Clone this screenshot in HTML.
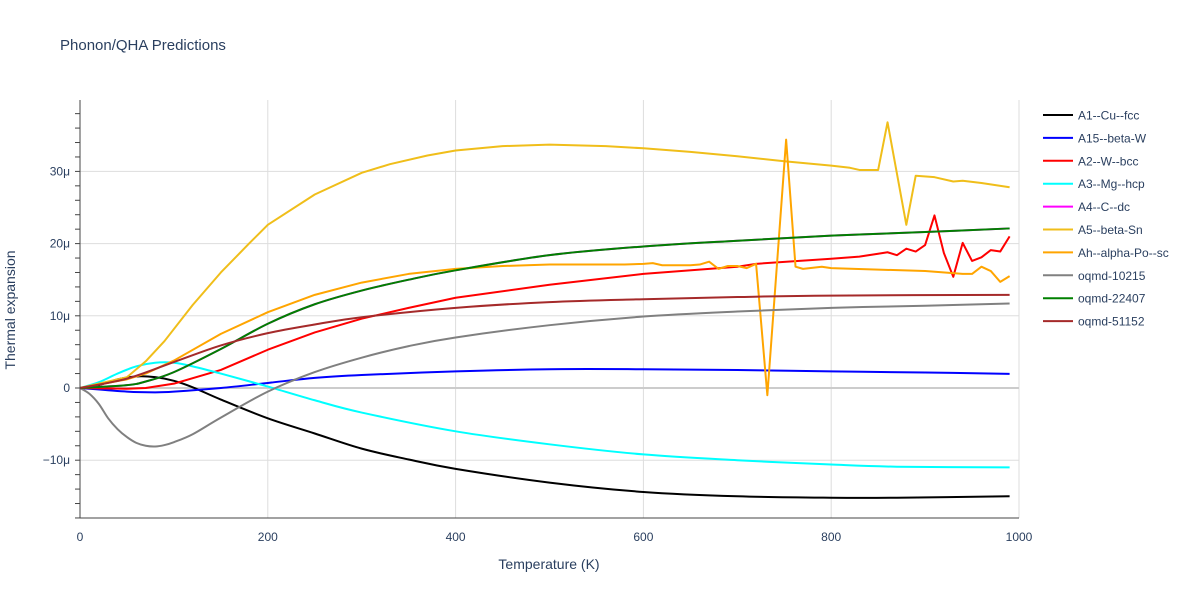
<!DOCTYPE html>
<html><head><meta charset="utf-8"><style>
body{margin:0;background:#fff;font-family:"Liberation Sans",Arial,sans-serif;}
svg text{font-family:"Liberation Sans",Arial,sans-serif;}
</style></head><body>
<svg id="c" width="1200" height="600" xmlns="http://www.w3.org/2000/svg">
<rect width="1200" height="600" fill="#fff"/>
<text x="60" y="50" font-size="15" fill="#2a3f5f">Phonon/QHA Predictions</text>
<g id="grid"></g>
<g id="series"></g>
<g id="axes"></g>
<g id="legend"></g>
<text x="549" y="569" font-size="14" fill="#2a3f5f" text-anchor="middle">Temperature (K)</text>
<text transform="translate(15,310) rotate(-90)" font-size="14" fill="#2a3f5f" text-anchor="middle">Thermal expansion</text>
</svg>
<script>
const xTicks=[0,200,400,600,800,1000];
const yTicks=[-10,0,10,20,30];
const yTickLabels=["−10μ","0","10μ","20μ","30μ"];
const names=["A1--Cu--fcc","A15--beta-W","A2--W--bcc","A3--Mg--hcp","A4--C--dc","A5--beta-Sn","Ah--alpha-Po--sc","oqmd-10215","oqmd-22407","oqmd-51152"];
const colors=["#000000","#0000ff","#ff0000","#00ffff","#ff00ff","#f0be1a","#ffa500","#808080","#008000","#a52a2a"];
const tA1=[0,20,40,60,80,100,120,150,200,250,300,350,400,500,600,700,800,870,990];
const vA1=[0,0.4,1.2,1.6,1.5,1.0,0.1,-1.6,-4.2,-6.3,-8.4,-9.9,-11.2,-13.1,-14.4,-15.0,-15.2,-15.2,-15.0];
const tA15=[0,50,80,100,150,200,250,300,400,500,600,700,800,900,990];
const vA15=[0,-0.5,-0.6,-0.5,0,0.7,1.4,1.8,2.3,2.6,2.6,2.5,2.3,2.15,1.95];
const tA2=[0,50,70,100,150,200,250,300,350,400,500,600,700,720,800,830,850,860,870,880,890,900,910,920,930,940,950,960,970,980,990];
const vA2=[0,-0.1,0,0.6,2.5,5.3,7.7,9.6,11.1,12.5,14.3,15.8,16.8,17.2,17.9,18.2,18.6,18.8,18.4,19.3,18.9,19.8,23.9,18.7,15.4,20.1,17.6,18.1,19.1,18.9,21.0];
const tA3=[0,20,40,60,80,100,120,150,200,250,300,400,500,600,700,800,870,990];
const vA3=[0,0.8,2.0,3.0,3.5,3.5,3.0,2.0,0.2,-1.7,-3.4,-6.0,-7.8,-9.2,-10.0,-10.6,-10.9,-11.0];
const tA5=[0,50,70,90,120,150,180,200,250,300,330,370,400,450,500,560,600,650,700,750,800,820,830,850,860,880,890,910,930,940,960,990];
const vA5=[0,1.5,3.7,6.5,11.5,16,20,22.6,26.8,29.8,31.0,32.2,32.9,33.5,33.7,33.5,33.2,32.7,32.1,31.4,30.8,30.5,30.2,30.2,36.8,22.6,29.4,29.2,28.6,28.7,28.4,27.8];
const tAh=[0,50,70,100,150,200,250,300,350,400,450,500,580,600,610,620,650,660,670,680,690,700,710,720,732,752,762,770,790,800,900,940,950,960,970,980,990];
const vAh=[0,1.2,2.0,3.8,7.5,10.5,12.9,14.6,15.8,16.5,16.9,17.1,17.1,17.2,17.3,17.0,17.0,17.1,17.5,16.5,16.9,16.9,16.6,17.2,-1.0,34.4,16.8,16.5,16.8,16.6,16.2,15.8,15.8,16.8,16.2,14.7,15.5];
const tG=[0,10,20,30,40,50,60,70,80,90,100,120,150,200,250,300,350,400,500,600,700,800,900,990];
const vG=[0,-0.8,-2.2,-4.2,-5.7,-6.8,-7.6,-8.0,-8.1,-7.9,-7.5,-6.4,-4.1,-0.5,2.2,4.2,5.8,7.0,8.7,9.9,10.6,11.1,11.4,11.7];
const tGr=[0,50,70,100,150,200,250,300,350,400,500,600,700,800,900,990];
const vGr=[0,0.4,0.9,2.2,5.4,8.9,11.6,13.5,15.0,16.3,18.4,19.6,20.4,21.1,21.6,22.1];
const tBr=[0,50,100,150,200,250,300,400,500,600,700,800,990];
const vBr=[0,1.3,3.6,5.9,7.6,8.8,9.8,11.1,11.9,12.3,12.6,12.8,12.9];

const X=t=>80+t*0.939, Y=v=>388-v*7.22;
const NS="http://www.w3.org/2000/svg";
function mk(tag,parent,attrs){const e=document.createElementNS(NS,tag);for(const k in attrs)e.setAttribute(k,attrs[k]);parent.appendChild(e);return e;}
const grid=document.getElementById('grid'),axes=document.getElementById('axes'),ser=document.getElementById('series'),leg=document.getElementById('legend');
xTicks.forEach(t=>{
  if(t>0){const l=mk('line',grid,{x1:X(t),x2:X(t),y1:100,y2:518,stroke:'#ddd','stroke-width':1});
  
  }
  const tx=mk('text',axes,{x:X(t),y:541,'font-size':12,fill:'#2a3f5f','text-anchor':'middle'});tx.textContent=t;
  
  
});
for(let v=-18;v<=38;v+=2){const l=mk('line',axes,{x1:75,x2:80,y1:Y(v),y2:Y(v),stroke:'#444','stroke-width':1});
  
  }
yTicks.forEach((v,i)=>{
  const l=mk('line',grid,{x1:80,x2:1019,y1:Y(v),y2:Y(v),stroke:v===0?'#ccc':'#ddd','stroke-width':v===0?2:1});
  
  
  const tx=mk('text',axes,{x:70,y:Y(v)+4,'font-size':12,fill:'#2a3f5f','text-anchor':'end'});tx.textContent=yTickLabels[i];
  
  
});
const a1=mk('line',axes,{x1:80,x2:80,y1:100,y2:518,stroke:'#444','stroke-width':1});


const a2=mk('line',axes,{x1:80,x2:1019,y1:518,y2:518,stroke:'#444','stroke-width':1});


const data=[[tA1,vA1],[tA15,vA15],[tA2,vA2],[tA3,vA3],[tGr,vGr],[tA5,vA5],[tAh,vAh],[tG,vG],[tGr,vGr],[tBr,vBr]];
const smooth=[true,true,false,true,true,false,false,true,true,true];
function pathD(t,v,sm){
  const P=t.map((tt,j)=>[X(tt),Y(v[j])]);
  let d='M'+P[0][0]+','+P[0][1];
  for(let j=0;j<P.length-1;j++){
    if(!sm){d+=' L'+P[j+1][0]+','+P[j+1][1];continue;}
    const p0=P[Math.max(0,j-1)],p1=P[j],p2=P[j+1],p3=P[Math.min(P.length-1,j+2)];
    const c1=[p1[0]+(p2[0]-p0[0])/6,p1[1]+(p2[1]-p0[1])/6];
    const c2=[p2[0]-(p3[0]-p1[0])/6,p2[1]-(p3[1]-p1[1])/6];
    d+=' C'+c1+' '+c2+' '+p2;
  }
  return d;
}
data.forEach((dv,i)=>{
  const p=mk('path',ser,{d:pathD(dv[0],dv[1],smooth[i]),fill:'none',stroke:colors[i],'stroke-width':2,'stroke-linejoin':'round'});
  
  
});
names.forEach((n,i)=>{
  const y=115+i*22.9;
  const g=mk('g',leg,{});
  
  
  mk('line',g,{x1:1043,x2:1073,y1:y,y2:y,stroke:colors[i],'stroke-width':2});
  const tx=mk('text',g,{x:1078,y:y+4.5,'font-size':12,fill:'#2a3f5f'});tx.textContent=n;
});
</script>
</body></html>
